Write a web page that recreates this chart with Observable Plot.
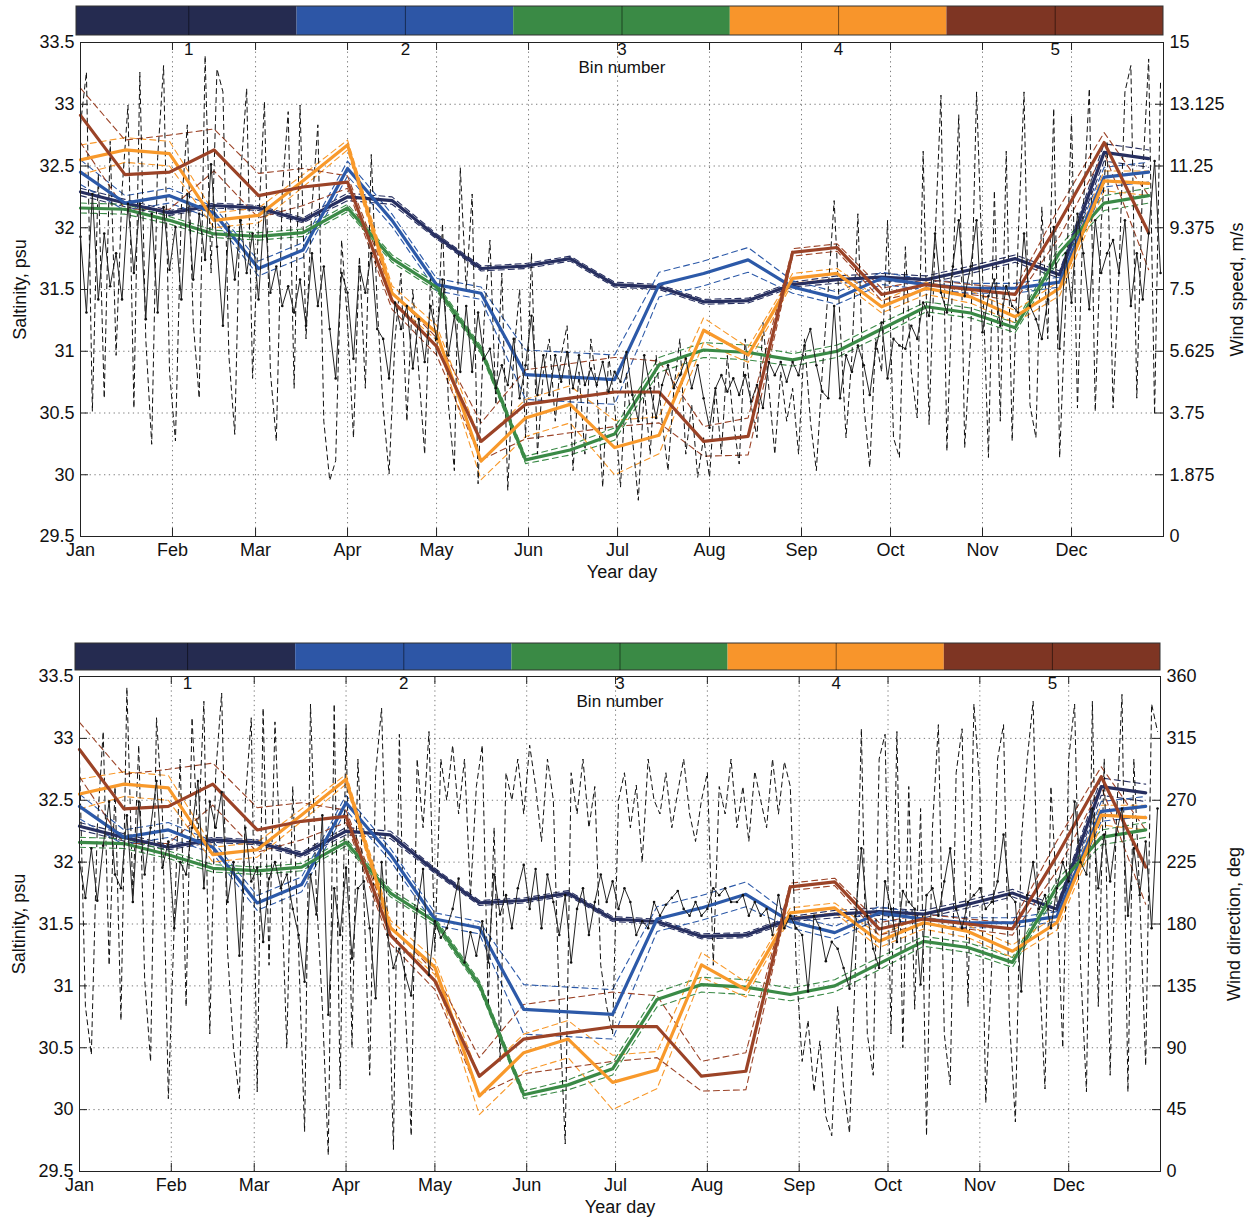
<!DOCTYPE html>
<html><head><meta charset="utf-8">
<script src="https://cdn.jsdelivr.net/npm/d3@7"></script>
<script src="https://cdn.jsdelivr.net/npm/@observablehq/plot@0.6"></script>
<style>
body{margin:0;background:#fff;}
#wrap{width:1255px;}
#wrap svg{display:block;overflow:visible;}
</style></head><body><div id="wrap"></div>
<script>
// ---------- data ----------
const binDays = [0,15,30,45,60,75,90,105,120,135,150,165,180,195,210,225,240,255,270,285,300,315,330,345,360];
const bin1 = [32.29,32.20,32.12,32.18,32.16,32.06,32.25,32.22,31.93,31.67,31.69,31.75,31.54,31.52,31.40,31.41,31.54,31.58,31.60,31.58,31.66,31.75,31.62,32.61,32.56];
const bin2 = [32.45,32.20,32.26,32.12,31.67,31.82,32.48,32.06,31.54,31.47,30.81,30.79,30.77,31.54,31.63,31.74,31.52,31.43,31.59,31.54,31.51,31.51,31.56,32.41,32.45];
const bin3 = [32.16,32.15,32.06,31.95,31.93,31.96,32.16,31.75,31.52,31.01,30.12,30.20,30.33,30.89,31.01,30.99,30.93,31.00,31.18,31.36,31.31,31.19,31.80,32.20,32.26];
const bin4 = [32.55,32.63,32.60,32.06,32.10,32.38,32.67,31.47,31.15,30.11,30.46,30.57,30.22,30.32,31.17,30.97,31.59,31.63,31.36,31.51,31.44,31.28,31.51,32.38,32.36];
const bin5 = [32.91,32.43,32.45,32.63,32.26,32.33,32.37,31.41,31.04,30.27,30.57,30.62,30.67,30.67,30.27,30.31,31.80,31.84,31.46,31.54,31.50,31.46,32.05,32.69,31.96];
// half-width of the dashed bounds
const err1 = [0.03,0.03,0.02,0.02,0.02,0.02,0.03,0.03,0.02,0.02,0.02,0.02,0.02,0.02,0.02,0.02,0.02,0.03,0.03,0.03,0.03,0.03,0.03,0.07,0.07];
const err2 = [0.10,0.06,0.06,0.05,0.06,0.06,0.06,0.05,0.05,0.05,0.20,0.20,0.20,0.10,0.10,0.10,0.05,0.05,0.05,0.04,0.04,0.04,0.04,0.08,0.08];
const err3 = [0.04,0.04,0.03,0.03,0.03,0.03,0.03,0.03,0.03,0.03,0.03,0.04,0.05,0.06,0.06,0.06,0.05,0.05,0.05,0.04,0.04,0.04,0.05,0.06,0.06];
const err4 = [0.12,0.10,0.10,0.06,0.06,0.05,0.04,0.06,0.06,0.15,0.15,0.15,0.22,0.15,0.10,0.06,0.04,0.04,0.05,0.05,0.05,0.05,0.06,0.08,0.10];
const err5 = [0.22,0.28,0.30,0.17,0.18,0.15,0.05,0.07,0.07,0.15,0.28,0.28,0.28,0.25,0.12,0.15,0.03,0.03,0.05,0.04,0.04,0.05,0.12,0.08,0.30];

const binLabels = ["1","2","3","4","5"];
const monthNames = ["Jan","Feb","Mar","Apr","May","Jun","Jul","Aug","Sep","Oct","Nov","Dec"];
const monthStarts = [0,31,59,90,120,151,181,212,243,273,304,334];
const salTicks = [29.5,30,30.5,31,31.5,32,32.5,33,33.5];
const windSpeedTicks = [0,1.875,3.75,5.625,7.5,9.375,11.25,13.125,15];
const windDirTicks = [0,45,90,135,180,225,270,315,360];

const sampleStep = 2; // days between wind samples
// wind speed (m/s), solid with dots
const speedSolid = [
9.1,6.8,10.4,7.2,9.2,7.6,8.6,7.2,10.1,8.0,10.1,6.6,9.8,6.8,10.0,8.1,9.4,7.2,10.4,7.8,9.8,8.4,11.3,8.8,6.4,9.4,7.8,9.6,8.0,9.2,7.2,10.0,7.4,8.2,7.0,7.6,6.8,7.8,6.4,8.6,7.0,8.2,6.3,4.8,8.0,7.4,5.4,8.2,
7.4,8.6,6.3,6.0,4.8,7.1,6.3,7.0,5.1,6.6,5.3,7.0,6.0,7.8,5.5,6.7,5.0,7.0,5.0,6.8,5.4,5.7,4.5,5.2,4.6,6.0,4.2,5.2,6.7,4.3,5.5,4.3,5.5,4.7,5.6,4.5,5.5,4.6,5.1,4.6,5.3,4.4,5.0,4.7,5.6,
4.3,3.5,5.5,4.5,3.6,4.6,5.2,4.5,4.9,5.4,4.5,5.2,4.2,3.3,4.5,4.9,4.4,4.8,4.3,4.9,4.1,4.6,3.9,5.3,4.9,5.3,4.7,5.3,4.9,5.8,6.3,5.2,4.4,4.2,7.0,4.2,5.5,5.0,5.8,5.2,4.3,5.7,6.5,4.8,6.0,
5.8,5.7,6.4,6.0,7.1,6.7,9.2,7.4,6.8,8.2,9.6,7.3,8.2,9.6,6.2,7.3,7.8,6.4,7.6,7.0,6.8,9.2,7.0,6.6,6.0,7.2,9.4,5.7,8.6,7.1,9.8,8.6,6.9,9.6,8.0,8.6,9.0,8.0,9.6,7.0,8.6,7.2,9.2,11.4,8.0];
// wind speed (m/s), dashed
const speedDashed = [
12.5,14.1,3.8,11.0,4.2,12.0,5.5,10.5,13.1,3.9,14.1,6.0,2.8,11.5,14.3,5.0,
2.9,10.0,12.5,6.5,4.2,14.6,8.0,14.2,13.5,5.5,3.1,11.0,13.6,4.8,
9.5,13.2,5.0,2.9,10.5,12.9,4.5,13.1,6.0,10.0,12.5,3.5,1.7,2.3,9.0,
6.5,3.0,8.5,4.5,11.6,7.0,3.9,1.9,6.0,8.0,3.5,7.5,5.0,2.5,8.0,
5.5,9.5,4.0,2.0,11.2,7.5,10.4,1.6,6.5,9.0,4.0,8.0,1.4,5.5,7.5,
3.0,8.6,2.5,5.0,6.0,3.5,5.5,6.4,2.0,5.0,2.5,6.0,4.5,1.5,5.5,
4.0,1.5,5.0,3.0,1.1,4.5,2.5,5.5,3.5,2.0,4.5,6.0,2.5,4.0,1.8,
3.0,1.8,4.5,2.5,5.5,3.5,2.2,6.0,4.0,3.0,6.5,4.5,2.5,5.0,3.5,
4.5,2.5,6.0,3.5,2.0,5.0,7.5,10.2,6.5,3.0,5.5,9.8,4.0,2.1,6.0,
5.0,9.6,3.0,2.4,8.8,5.0,3.6,11.7,3.4,9.0,13.4,2.6,8.0,12.8,2.7,
6.0,13.5,8.0,2.4,10.5,3.5,11.7,2.9,9.0,13.5,4.0,3.0,10.0,6.0,13.0,
2.4,7.0,12.8,3.9,10.0,13.6,3.8,9.5,12.0,3.9,8.0,13.5,14.3,4.2,11.0,14.5,3.7,13.8];
// wind direction (deg), solid with dots
const dirSolid = [
225,199,235,197,237,269,216,206,259,196,269,216,250,284,221,240,177,225,216,250,284,206,269,250,276,196,225,157,250,211,221,167,213,225,206,216,191,172,138,216,187,259,114,206,172,221,155,206,
211,177,126,225,172,148,162,143,128,191,220,143,182,170,177,191,213,152,174,157,182,152,216,187,201,177,206,223,191,220,177,216,196,172,201,152,191,206,172,196,216,196,211,191,206,
196,172,182,177,196,186,194,199,204,191,186,196,186,191,206,201,206,196,196,201,186,196,186,191,172,201,177,186,177,172,131,186,177,153,167,162,148,133,186,235,186,162,148,211,191,
167,204,196,191,136,201,206,186,211,235,191,177,196,201,206,191,196,211,245,201,196,131,201,225,191,201,177,206,225,211,269,225,216,264,206,245,211,245,264,186,235,201,240,177,264];
// wind direction (deg), dashed
const dirDashed = [
300,120,85,250,320,150,280,110,352,200,310,140,80,330,260,53,
180,300,120,330,240,342,100,290,348,160,90,53,270,330,
58,337,150,327,220,90,280,160,29,340,200,120,12,340,60,
325,90,300,200,70,290,337,180,16,318,120,26,300,250,320,
160,300,270,310,260,300,200,280,310,120,250,80,290,270,300,
260,310,280,240,300,270,120,20,290,260,300,250,280,150,120,
100,270,290,250,281,225,300,270,260,290,250,276,300,260,240,
270,290,150,280,260,300,250,280,240,291,270,250,300,260,298,
280,150,80,110,58,95,40,26,120,60,28,150,322,100,70,
300,318,100,320,90,280,118,264,26,250,325,100,63,290,322,
120,340,280,50,150,300,325,110,36,240,300,342,150,60,280,
200,90,300,340,150,58,342,120,300,70,250,347,58,300,200,77,340,320];

const lineColors = ["#272f60","#2c59a8","#3a8a46","#f8992b","#9b4327"];
const barColors  = ["#252b50","#2d56a6","#3a8a45","#f8952b","#7e3523"];

// ---------- drawing ----------
const W = 1255, H = 611;
const FONT = "'Liberation Sans', Arial, Helvetica, sans-serif";
const bins = [bin1,bin2,bin3,bin4,bin5];
const errs = [err1,err2,err3,err4,err5];

function panel(cfg) {
  const ph = H - cfg.mt - cfg.mb;
  const ppu = ph / 4;                 // px per psu
  const pw = W - cfg.ml - cfg.mr;
  const ppd = pw / 365;               // px per day
  const above = px => 33.5 + px / ppu;
  const solidPts = cfg.solid.map((w, i) => ({day: i * sampleStep, s: cfg.toSal(w)}));
  const dashedPts = cfg.dashed.map((w, i) => ({day: i * sampleStep, s: cfg.toSal(w)}));
  const binSpan = 365 / 5;
  const bars = bins.map((_, k) => ({k, x1: k * binSpan - (k === 0 ? 4 / ppd : 0), x2: (k + 1) * binSpan, c: barColors[k]}));
  const centers = bins.map((_, k) => (k + 0.5) * binSpan);
  const rightPos = cfg.rightTicks.map(cfg.toSal);
  const cbLo = above(cfg.cbBottom), cbHi = above(cfg.cbTop);
  const tickLen = 8;

  const binMarks = bins.flatMap((b, k) => {
    const rows = b.map((v, i) => ({day: binDays[i], v, lo: v - errs[k][i], hi: v + errs[k][i]}));
    return [
      Plot.line(rows, {x: "day", y: "lo", stroke: lineColors[k], strokeWidth: 1.1, strokeDasharray: "6,4"}),
      Plot.line(rows, {x: "day", y: "hi", stroke: lineColors[k], strokeWidth: 1.1, strokeDasharray: "6,4"})
    ];
  });
  const binThick = bins.map((b, k) =>
    Plot.line(b.map((v, i) => ({day: binDays[i], v})), {x: "day", y: "v", stroke: lineColors[k], strokeWidth: 3.2, strokeLinejoin: "round"}));

  return Plot.plot({
    width: W, height: H,
    marginLeft: cfg.ml, marginRight: cfg.mr, marginTop: cfg.mt, marginBottom: cfg.mb,
    style: {fontFamily: FONT, fontSize: "18px", background: "#fff", color: "#111"},
    x: {domain: [0, 365]},
    y: {domain: [29.5, 33.5]},
    color: {type: "identity"},
    marks: [
      Plot.gridX(monthStarts, {stroke: "#222", strokeOpacity: 0.6, strokeDasharray: "1.3,3.5", strokeWidth: 1}),
      Plot.gridY(salTicks.slice(1, -1), {stroke: "#222", strokeOpacity: 0.6, strokeDasharray: "1.3,3.5", strokeWidth: 1}),
      ...binMarks,
      Plot.line(dashedPts, {x: "day", y: "s", stroke: "#111", strokeWidth: 1, strokeDasharray: "5,4"}),
      ...binThick,
      Plot.line(solidPts, {x: "day", y: "s", stroke: "#222", strokeWidth: 1}),
      Plot.dot(solidPts, {x: "day", y: "s", r: 1.3, fill: "#111", stroke: null}),
      // colorbar
      Plot.rect(bars, {x1: "x1", x2: "x2", y1: cbLo, y2: cbHi, fill: "c"}),
      Plot.rect([0], {x1: -4 / ppd, x2: 365, y1: cbLo, y2: cbHi, fill: "none", stroke: "#333", strokeWidth: 1}),
      Plot.ruleX(centers, {y1: cbLo, y2: cbHi, stroke: "#000", strokeOpacity: 0.5, strokeWidth: 1}),
      // inward ticks
      Plot.ruleX(monthStarts, {y1: 29.5, y2: 29.5 + tickLen / ppu, stroke: "#222"}),
      Plot.ruleX(monthStarts, {y1: 33.5, y2: 33.5 - tickLen / ppu, stroke: "#222"}),
      Plot.ruleY(salTicks, {x1: 0, x2: tickLen / ppd, stroke: "#222"}),
      Plot.ruleY(salTicks, {x1: 365, x2: 365 - tickLen / ppd, stroke: "#222"}),
      Plot.frame({stroke: "#222", strokeWidth: 1}),
      // bin labels
      Plot.text(centers, {x: d => d, y: 33.5, text: (d, i) => binLabels[i], lineAnchor: "top", dy: 0, fontSize: 17, fill: "#111"}),
      Plot.text(["Bin number"], {x: 182.5, y: 33.5, lineAnchor: "top", dy: 18, fontSize: 17, fill: "#111"}),
      // axes
      Plot.axisX(monthStarts, {tickSize: 0, tickPadding: cfg.xPad, tickFormat: d => monthNames[monthStarts.indexOf(d)], label: null, fontSize: 18}),
      Plot.axisY(salTicks, {anchor: "left", tickSize: 0, tickPadding: 6, tickFormat: d => String(d), label: null, fontSize: 18}),
      Plot.axisY(rightPos, {anchor: "right", tickSize: 0, tickPadding: 6,
        tickFormat: d => String(cfg.rightTicks[d3.minIndex(rightPos, p => Math.abs(p - d))]), label: null, fontSize: 18}),
      Plot.text(["Saltinity, psu"], {frameAnchor: "left", textAnchor: "middle", rotate: -90, dx: -60, fontSize: 18, fill: "#111"}),
      Plot.text([cfg.rightLabel], {frameAnchor: "right", textAnchor: "middle", rotate: -90, dx: 74, fontSize: 18, fill: "#111"}),
      Plot.text(["Year day"], {frameAnchor: "bottom", lineAnchor: "middle", dy: cfg.xLabelDy, fontSize: 18, fill: "#111"})
    ]
  });
}

const wrap = document.getElementById("wrap");
wrap.appendChild(panel({
  solid: speedSolid, dashed: speedDashed,
  toSal: w => 29.5 + w / 3.75,
  rightTicks: windSpeedTicks, rightLabel: "Wind speed, m/s",
  ml: 80, mr: 92, mt: 42, mb: 75,
  cbTop: 36, cbBottom: 7, xPad: 7, xLabelDy: 36
}));
wrap.appendChild(panel({
  solid: dirSolid, dashed: dirDashed,
  toSal: d => 29.5 + d / 90,
  rightTicks: windDirTicks, rightLabel: "Wind direction, deg",
  ml: 79, mr: 95, mt: 65, mb: 51,
  cbTop: 33, cbBottom: 6, xPad: 7, xLabelDy: 36
}));
</script>
</body></html>
